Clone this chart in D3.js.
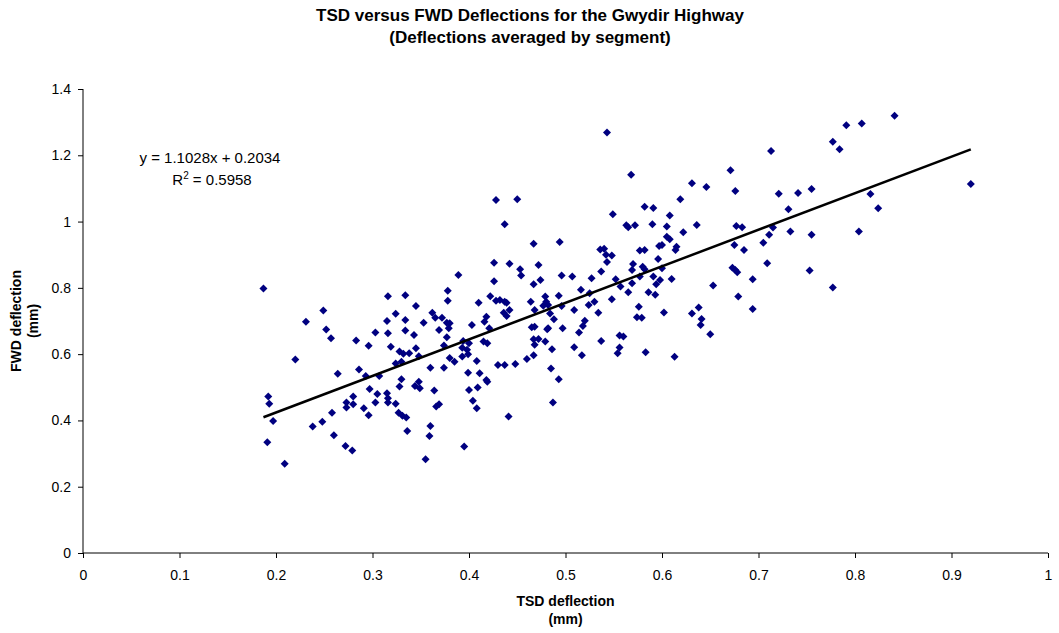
<!DOCTYPE html>
<html>
<head>
<meta charset="utf-8">
<script src="https://cdn.jsdelivr.net/npm/d3@7"></script>
<style>
  body { margin: 0; background: #fff; }
  svg text { font-family: "Liberation Sans", Arial, sans-serif; fill: #000; }
</style>
</head>
<body>
<div id="chart"></div>
<script>
// segment averages (mm)
const tsdDeflection = [
  0.187,0.249,0.231,0.252,0.257,0.220,0.264,0.192,0.193,0.197,0.258,0.248,0.238,0.260,0.191,0.209,
  0.428,0.426,0.389,0.426,0.378,0.378,0.316,0.334,0.345,0.422,0.428,0.410,0.324,0.362,0.315,0.334,
  0.353,0.365,0.372,0.377,0.380,0.379,0.369,0.403,0.418,0.416,0.421,0.303,0.316,0.334,0.343,0.377,
  0.283,0.296,0.319,0.374,0.394,0.400,0.415,0.419,0.328,0.332,0.338,0.345,0.348,0.393,0.398,0.399,
  0.393,0.380,0.385,0.324,0.330,0.360,0.374,0.408,0.430,0.286,0.293,0.307,0.399,0.411,0.330,0.418,
  0.419,0.328,0.297,0.344,0.348,0.349,0.364,0.400,0.409,0.305,0.315,0.316,0.316,0.280,0.273,0.273,
  0.280,0.303,0.324,0.291,0.296,0.327,0.331,0.335,0.369,0.366,0.404,0.408,0.336,0.360,0.359,0.272,
  0.279,0.395,0.355,
  0.543,0.568,0.450,0.549,0.582,0.591,0.437,0.563,0.565,0.572,0.590,0.467,0.494,0.536,0.540,0.542,
  0.548,0.543,0.577,0.582,0.597,0.442,0.453,0.454,0.472,0.467,0.474,0.496,0.507,0.527,0.537,0.570,
  0.580,0.582,0.569,0.552,0.557,0.569,0.577,0.591,0.594,0.596,0.565,0.586,0.593,0.516,0.525,0.493,
  0.479,0.480,0.477,0.482,0.484,0.488,0.496,0.464,0.468,0.432,0.437,0.439,0.436,0.439,0.442,0.524,
  0.530,0.509,0.534,0.548,0.576,0.574,0.579,0.465,0.468,0.481,0.482,0.497,0.520,0.518,0.514,0.467,
  0.472,0.468,0.479,0.486,0.509,0.517,0.537,0.556,0.560,0.556,0.554,0.583,0.437,0.448,0.460,0.467,
  0.485,0.493,0.487,0.441,
  0.713,0.671,0.631,0.646,0.676,0.721,0.741,0.755,0.619,0.731,0.608,0.605,0.636,0.677,0.683,0.715,
  0.622,0.605,0.608,0.600,0.615,0.614,0.675,0.685,0.705,0.711,0.733,0.755,0.600,0.598,0.610,0.653,
  0.673,0.676,0.678,0.694,0.709,0.753,0.679,0.694,0.602,0.631,0.638,0.641,0.640,0.650,0.613,0.777,
  0.777,0.784,0.791,0.807,0.841,0.816,0.824,0.804,0.920
];
const fwdDeflection = [
  0.798,0.732,0.698,0.674,0.648,0.584,0.541,0.472,0.450,0.398,0.423,0.396,0.382,0.355,0.334,0.269,
  1.065,0.876,0.839,0.820,0.791,0.761,0.775,0.778,0.745,0.775,0.761,0.755,0.722,0.725,0.700,0.703,
  0.695,0.710,0.710,0.695,0.693,0.678,0.673,0.688,0.713,0.698,0.678,0.665,0.663,0.671,0.658,0.651,
  0.641,0.625,0.622,0.626,0.640,0.633,0.638,0.633,0.608,0.601,0.603,0.618,0.594,0.619,0.613,0.600,
  0.593,0.588,0.577,0.572,0.577,0.559,0.559,0.579,0.567,0.554,0.534,0.534,0.544,0.542,0.524,0.522,
  0.517,0.502,0.495,0.504,0.517,0.497,0.490,0.492,0.499,0.480,0.482,0.467,0.454,0.472,0.454,0.439,
  0.449,0.454,0.450,0.437,0.416,0.423,0.414,0.409,0.449,0.442,0.459,0.437,0.368,0.383,0.353,0.323,
  0.309,0.321,0.283,
  1.269,1.141,1.067,1.022,1.045,1.041,0.992,0.989,0.983,0.989,0.992,0.933,0.938,0.916,0.918,0.900,
  0.898,0.878,0.913,0.914,0.926,0.873,0.856,0.837,0.869,0.811,0.824,0.837,0.834,0.829,0.849,0.872,
  0.864,0.856,0.854,0.826,0.804,0.814,0.834,0.834,0.811,0.887,0.787,0.787,0.779,0.794,0.784,0.776,
  0.774,0.758,0.746,0.748,0.723,0.705,0.745,0.758,0.733,0.763,0.758,0.755,0.725,0.715,0.733,0.748,
  0.758,0.733,0.725,0.766,0.743,0.711,0.710,0.681,0.683,0.675,0.678,0.678,0.701,0.685,0.665,0.645,
  0.646,0.628,0.638,0.615,0.621,0.597,0.640,0.656,0.653,0.620,0.603,0.606,0.567,0.570,0.585,0.597,
  0.557,0.524,0.454,0.412,
  1.213,1.155,1.116,1.104,1.092,1.084,1.086,1.098,1.067,1.037,1.018,0.985,0.990,0.987,0.983,0.982,
  0.968,0.954,0.947,0.929,0.924,0.914,0.929,0.914,0.936,0.960,0.970,0.960,0.859,0.824,0.827,0.807,
  0.861,0.854,0.847,0.826,0.874,0.852,0.774,0.736,0.726,0.723,0.741,0.706,0.688,0.660,0.592,0.801,
  1.241,1.218,1.291,1.296,1.319,1.083,1.040,0.970,1.113
];

const xTicks = [0, 0.1, 0.2, 0.3, 0.4, 0.5, 0.6, 0.7, 0.8, 0.9, 1];
const yTicks = [0, 0.2, 0.4, 0.6, 0.8, 1, 1.2, 1.4];
const trendSlope = 1.1028;
const trendIntercept = 0.2034;
const rSquared = 0.5958;

const width = 1059, height = 633;
const margin = {top: 89, right: 11, bottom: 80, left: 83};
const labelFont = '14px';

const svg = d3.select('#chart').append('svg')
  .attr('width', width)
  .attr('height', height);

const x = d3.scaleLinear().domain([0, 1]).range([margin.left, width - margin.right]);
const y = d3.scaleLinear().domain([0, 1.4]).range([height - margin.bottom, margin.top]);

// title
const title = svg.append('text')
  .attr('text-anchor', 'middle')
  .style('font-size', '17px')
  .style('font-weight', 'bold');
title.append('tspan').attr('x', 530).attr('y', 21).text('TSD versus FWD Deflections for the Gwydir Highway');
title.append('tspan').attr('x', 530).attr('y', 43).text('(Deflections averaged by segment)');

// axes
const xAxis = d3.axisBottom(x).tickValues(xTicks).tickSize(5).tickPadding(12).tickFormat(d3.format(''));
const yAxis = d3.axisLeft(y).tickValues(yTicks).tickSize(5).tickPadding(7).tickFormat(d3.format(''));

svg.append('g')
  .attr('transform', `translate(0,${y(0)})`)
  .call(xAxis)
  .call(g => g.select('.domain').attr('d', `M${x(0)},0H${x(1)}`))
  .selectAll('text').style('font-size', labelFont).style('font-family', '"Liberation Sans", Arial, sans-serif');

svg.append('g')
  .attr('transform', `translate(${x(0)},0)`)
  .call(yAxis)
  .call(g => g.select('.domain').attr('d', `M0,${y(0)}V${y(1.4)}`))
  .selectAll('text').style('font-size', labelFont).style('font-family', '"Liberation Sans", Arial, sans-serif');

svg.selectAll('.domain, .tick line').attr('stroke', '#000').attr('stroke-width', 1);

// axis titles
const xTitle = svg.append('text')
  .attr('text-anchor', 'middle')
  .style('font-size', labelFont)
  .style('font-weight', 'bold');
xTitle.append('tspan').attr('x', (x(0) + x(1)) / 2).attr('y', 606).text('TSD deflection');
xTitle.append('tspan').attr('x', (x(0) + x(1)) / 2).attr('y', 624).text('(mm)');

const yMid = (y(0) + y(1.4)) / 2;
const yTitle = svg.append('text')
  .attr('transform', `translate(0,${yMid}) rotate(-90)`)
  .attr('text-anchor', 'middle')
  .style('font-size', labelFont)
  .style('font-weight', 'bold');
yTitle.append('tspan').attr('x', 0).attr('y', 21).text('FWD deflection');
yTitle.append('tspan').attr('x', 0).attr('y', 38).text('(mm)');

// points
const points = tsdDeflection.map((d, i) => ({tsd: d, fwd: fwdDeflection[i]}));
svg.append('g').selectAll('path')
  .data(points)
  .enter()
  .append('path')
  .attr('d', 'M0,-4L4,0L0,4L-4,0Z')
  .attr('transform', d => `translate(${x(d.tsd)},${y(d.fwd)})`)
  .attr('fill', '#000080');

// linear trendline over the data range
const xExtent = d3.extent(tsdDeflection);
svg.append('line')
  .attr('x1', x(xExtent[0]))
  .attr('y1', y(trendSlope * xExtent[0] + trendIntercept))
  .attr('x2', x(xExtent[1]))
  .attr('y2', y(trendSlope * xExtent[1] + trendIntercept))
  .attr('stroke', '#000')
  .attr('stroke-width', 2.5);

// equation label
svg.append('text')
  .attr('x', 210)
  .attr('y', 163)
  .attr('text-anchor', 'middle')
  .style('font-size', '15px')
  .text(`y = ${trendSlope}x + ${trendIntercept}`);
const r2 = svg.append('text')
  .attr('x', 212)
  .attr('y', 185)
  .attr('text-anchor', 'middle')
  .style('font-size', '15px');
r2.append('tspan').text('R');
r2.append('tspan').attr('dy', -6).style('font-size', '10px').text('2');
r2.append('tspan').attr('dy', 6).text(` = ${rSquared}`);
</script>
</body>
</html>
